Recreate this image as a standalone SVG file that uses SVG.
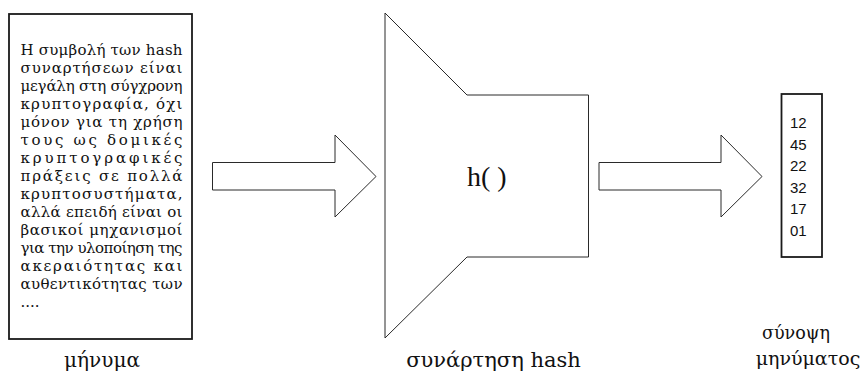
<svg xmlns="http://www.w3.org/2000/svg" width="860" height="376" viewBox="0 0 860 376">
  <style>
    .bg { fill: #ffffff; }
    .box { fill: #ffffff; stroke: #1a1a1a; stroke-width: 1.8; }
    .shape { fill: #ffffff; stroke: #2a2a2a; stroke-width: 1; stroke-linejoin: miter; }
    .body { font-family: "DejaVu Serif", "Liberation Serif", serif; font-size: 15px; fill: #111111; }
    .cap { font-family: "DejaVu Serif", "Liberation Serif", serif; font-size: 20px; fill: #111111; text-anchor: middle; }
    .fn { font-family: "Liberation Serif", "Times New Roman", serif; font-size: 28px; fill: #111111; }
    .num { font-family: "Liberation Sans", Arial, sans-serif; font-size: 15px; fill: #111111; }
  </style>

  <rect class="bg" x="0" y="0" width="860" height="376"/>

  <!-- message document -->
  <g id="message">
    <rect class="box" x="9" y="14" width="183" height="325"/>
    <g class="body">
      <text x="20.5" y="55" textLength="162" lengthAdjust="spacing">Η συμβολή των hash</text>
      <text x="20.5" y="73" textLength="162" lengthAdjust="spacing">συναρτήσεων είναι</text>
      <text x="20.5" y="91" textLength="162" lengthAdjust="spacing">μεγάλη στη σύγχρονη</text>
      <text x="20.5" y="109" textLength="162" lengthAdjust="spacing">κρυπτογραφία, όχι</text>
      <text x="20.5" y="127" textLength="162" lengthAdjust="spacing">μόνον για τη χρήση</text>
      <text x="20.5" y="145" textLength="162" lengthAdjust="spacing">τους ως δομικές</text>
      <text x="20.5" y="163" textLength="162" lengthAdjust="spacing">κρυπτογραφικές</text>
      <text x="20.5" y="181" textLength="162" lengthAdjust="spacing">πράξεις σε πολλά</text>
      <text x="20.5" y="199" textLength="162" lengthAdjust="spacing">κρυπτοσυστήματα,</text>
      <text x="20.5" y="217" textLength="162" lengthAdjust="spacing">αλλά επειδή είναι οι</text>
      <text x="20.5" y="235" textLength="162" lengthAdjust="spacing">βασικοί μηχανισμοί</text>
      <text x="20.5" y="253" textLength="162" lengthAdjust="spacing">για την υλοποίηση της</text>
      <text x="20.5" y="271" textLength="162" lengthAdjust="spacing">ακεραιότητας και</text>
      <text x="20.5" y="289" textLength="162" lengthAdjust="spacing">αυθεντικότητας των</text>
      <text x="20.5" y="307">....</text>
    </g>
    <text class="cap" x="102" y="367">μήνυμα</text>
  </g>

  <!-- hash function funnel -->
  <g id="hash-function">
    <path class="shape" d="M385,13 L467,95 L588.5,95 L588.5,257 L467,257 L385,338 Z"/>
    <text class="fn" x="467" y="186">h( )</text>
    <text class="cap" x="493.5" y="367" style="font-size:21px">συνάρτηση hash</text>
  </g>

  <!-- message digest -->
  <g id="digest">
    <rect class="box" x="781.5" y="94" width="40.5" height="163"/>
    <g class="num">
      <text x="790" y="128">12</text>
      <text x="790" y="149.5">45</text>
      <text x="790" y="171">22</text>
      <text x="790" y="192.5">32</text>
      <text x="790" y="214">17</text>
      <text x="790" y="235.5">01</text>
    </g>
    <text class="cap" x="796" y="339" style="font-size:19px" textLength="68" lengthAdjust="spacingAndGlyphs">σύνοψη</text>
    <text class="cap" x="808" y="365" style="font-size:19px">μηνύματος</text>
  </g>

  <!-- block arrows between stages -->
  <g id="connectors">
    <path class="shape" d="M212.5,162.5 L335,162.5 L335,135 L376,176.5 L335,217 L335,190 L212.5,190 Z"/>
    <path class="shape" d="M599,162.5 L721,162.5 L721,135 L762,176.5 L721,217 L721,190 L599,190 Z"/>
  </g>
</svg>
